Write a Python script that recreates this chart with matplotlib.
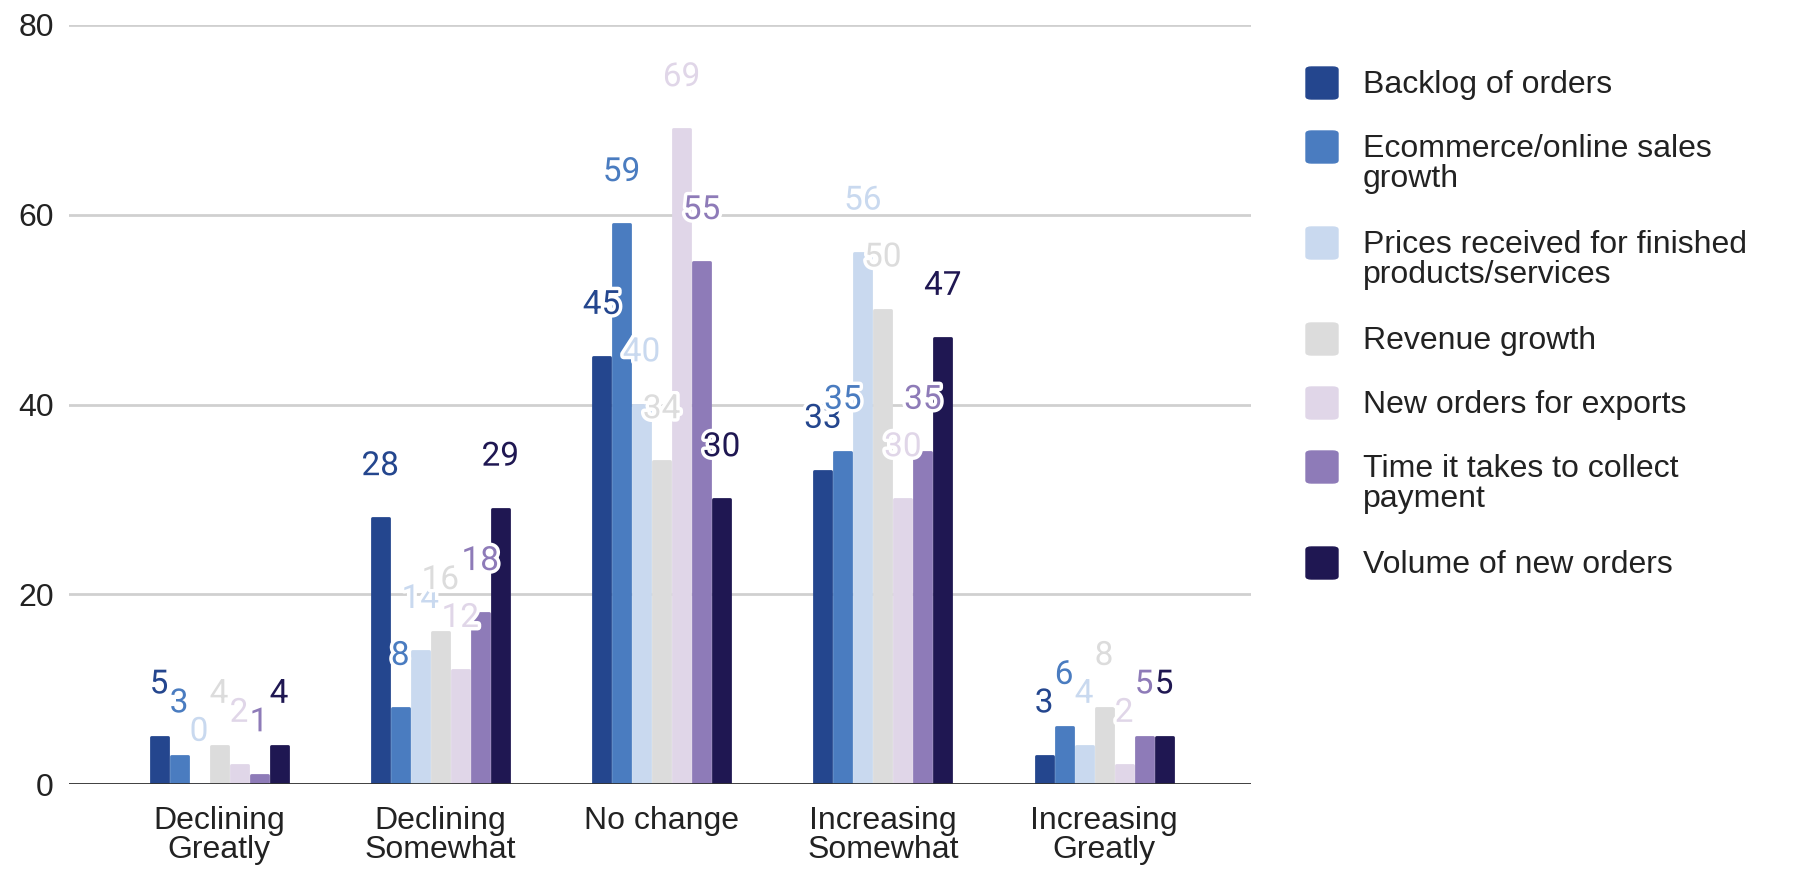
import numpy as np
import matplotlib
matplotlib.use("Agg")
import matplotlib.pyplot as plt
from matplotlib import patheffects
from matplotlib.patches import FancyBboxPatch

categories = ["Declining\nGreatly", "Declining\nSomewhat", "No change",
              "Increasing\nSomewhat", "Increasing\nGreatly"]
series = ["Backlog of orders", "Ecommerce/online sales\ngrowth",
          "Prices received for finished\nproducts/services", "Revenue growth",
          "New orders for exports", "Time it takes to collect\npayment",
          "Volume of new orders"]
backlog = [5, 28, 45, 33, 3]
ecommerce = [3, 8, 59, 35, 6]
prices = [0, 14, 40, 56, 4]
revenue = [4, 16, 34, 50, 8]
exports = [2, 12, 69, 30, 2]
collect = [1, 18, 55, 35, 5]
volume = [4, 29, 30, 47, 5]
values = [backlog, ecommerce, prices, revenue, exports, collect, volume]
colors = ["#24468e", "#4a7cc0", "#c9d9ef", "#dcdcdc", "#e0d6e8", "#8e7bb8", "#1f1752"]

TXT = "#222222"
FS = 23
W, H = 1793, 869
fig = plt.figure(figsize=(W / 100, H / 100), dpi=100)
ax = fig.add_axes([69 / W, 1 - 784 / H, (1251 - 69) / W, (784 - 25) / H])

x = np.arange(len(categories))
step, width = 0.0904, 0.0768
for i, (vals, c) in enumerate(zip(values, colors)):
    pos = x + (i - 3) * step
    bars = ax.bar(pos, vals, width=width, color=c, zorder=2)
    for b in bars:
        b.set_joinstyle("round")
        b.set_edgecolor(c)
        b.set_linewidth(2)
    for px, v in zip(pos, vals):
        ax.text(px, v + 5.5, str(v), ha="center", va="center", color=c,
                fontsize=24, family="Roboto", zorder=5,
                path_effects=[patheffects.withStroke(linewidth=5, foreground="white")])

ax.set_xlim(-0.678, 4.664)
ax.set_ylim(0, 80)
ax.set_yticks([0, 20, 40, 60, 80])
ax.yaxis.grid(True, color="#d0d0d0", linewidth=2)
ax.set_axisbelow(True)
ax.axhline(0, color="#333333", linewidth=2, zorder=3)
for s in ax.spines.values():
    s.set_visible(False)
ax.set_xticks(x)
ax.set_xticklabels(categories, linespacing=0.95)
ax.tick_params(length=0)
ax.tick_params(axis="y", pad=11, labelsize=FS, labelcolor=TXT)
ax.tick_params(axis="x", pad=16, labelsize=FS, labelcolor=TXT)
for lab in ax.get_xticklabels() + ax.get_yticklabels():
    lab.set_family("Liberation Sans")

# legend drawn by hand to match the stacked layout
leg_y = 83
for name, c in zip(series, colors):
    fig.add_artist(FancyBboxPatch((1306 / W, 1 - (leg_y + 16) / H), 32 / W, 32 / H,
                                  boxstyle="round,pad=0,rounding_size=0.003",
                                  transform=fig.transFigure, color=c))
    fig.text(1363 / W, 1 - (leg_y - 13) / H, name, ha="left", va="top",
             fontsize=FS, family="Liberation Sans", color=TXT, linespacing=0.99)
    leg_y += 64 + 32 * name.count("\n")

fig.savefig("out.png", dpi=100, facecolor="white")
